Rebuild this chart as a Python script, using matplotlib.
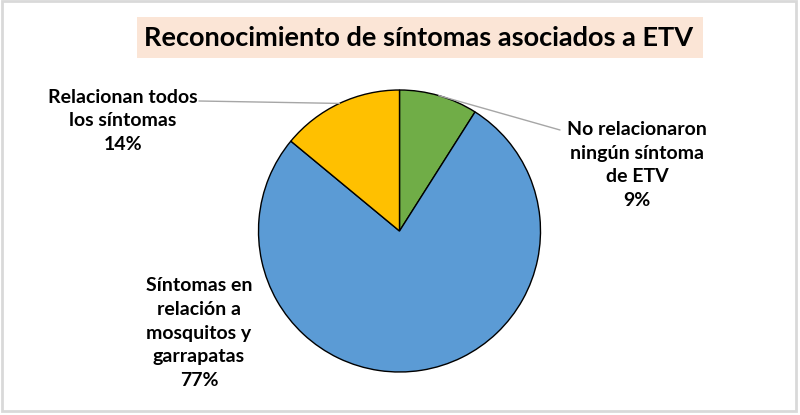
import numpy as np
import matplotlib
matplotlib.use("Agg")
import matplotlib.pyplot as plt
from matplotlib.patches import Rectangle

# ---- data ----
title = "Reconocimiento de síntomas asociados a ETV"
categories = ["No relacionaron\nningún síntoma\nde ETV",
              "Síntomas en\nrelación a\nmosquitos y\ngarrapatas",
              "Relacionan todos\nlos síntomas"]
values = [9, 77, 14]
colors = ["#70AD47", "#5B9BD5", "#FFC000"]

W, H = 800, 415
plt.rcParams['font.family'] = ['Lato', 'DejaVu Sans']
fig = plt.figure(figsize=(W / 100, H / 100), dpi=100)

def px(x, y):
    return (x / W, 1 - y / H)

# outer frame
fig.patches.append(Rectangle(px(1.5, 410.5), 794 / W, 409 / H, transform=fig.transFigure,
                             fill=False, edgecolor="#D9D9D9", linewidth=2, zorder=0))

# title box
fig.patches.append(Rectangle(px(137, 58), 566 / W, 41 / H, transform=fig.transFigure,
                             facecolor="#FBE5D6", edgecolor="none", zorder=1))
fig.text(*px(419, 38), title, ha="center", va="center", fontsize=19.5,
         fontweight="bold", color="black", zorder=2)

# pie axes
cx, cy, r = 399.5, 231, 141
ax = fig.add_axes([(cx - r) / W, 1 - (cy + r) / H, 2 * r / W, 2 * r / H])
wedges, _ = ax.pie(values, colors=colors, startangle=90, counterclock=False,
                   wedgeprops=dict(edgecolor="black", linewidth=1))
ax.set_xlim(-1, 1)
ax.set_ylim(-1, 1)
ax.set_aspect("equal")
ax.axis("off")

total = sum(values)
fs = 14
label_pos = [(637, 165), (199, 333), (123, 121)]
leader_start = [(560, 130), None, (199, 101)]
for i, (w, cat, v) in enumerate(zip(wedges, categories, values)):
    txt = f"{cat}\n{round(100 * v / total)}%"
    fig.text(*px(*label_pos[i]), txt, ha="center", va="center", fontsize=fs,
             fontweight="bold", linespacing=1.48)
    if leader_start[i] is not None:
        ang = np.deg2rad((w.theta1 + w.theta2) / 2)
        ax.annotate("", xy=(np.cos(ang), np.sin(ang)), xycoords="data",
                    xytext=px(*leader_start[i]), textcoords="figure fraction",
                    arrowprops=dict(arrowstyle="-", color="#A6A6A6", lw=1,
                                    shrinkA=0, shrinkB=0))

fig.savefig("out.png", dpi=100)
